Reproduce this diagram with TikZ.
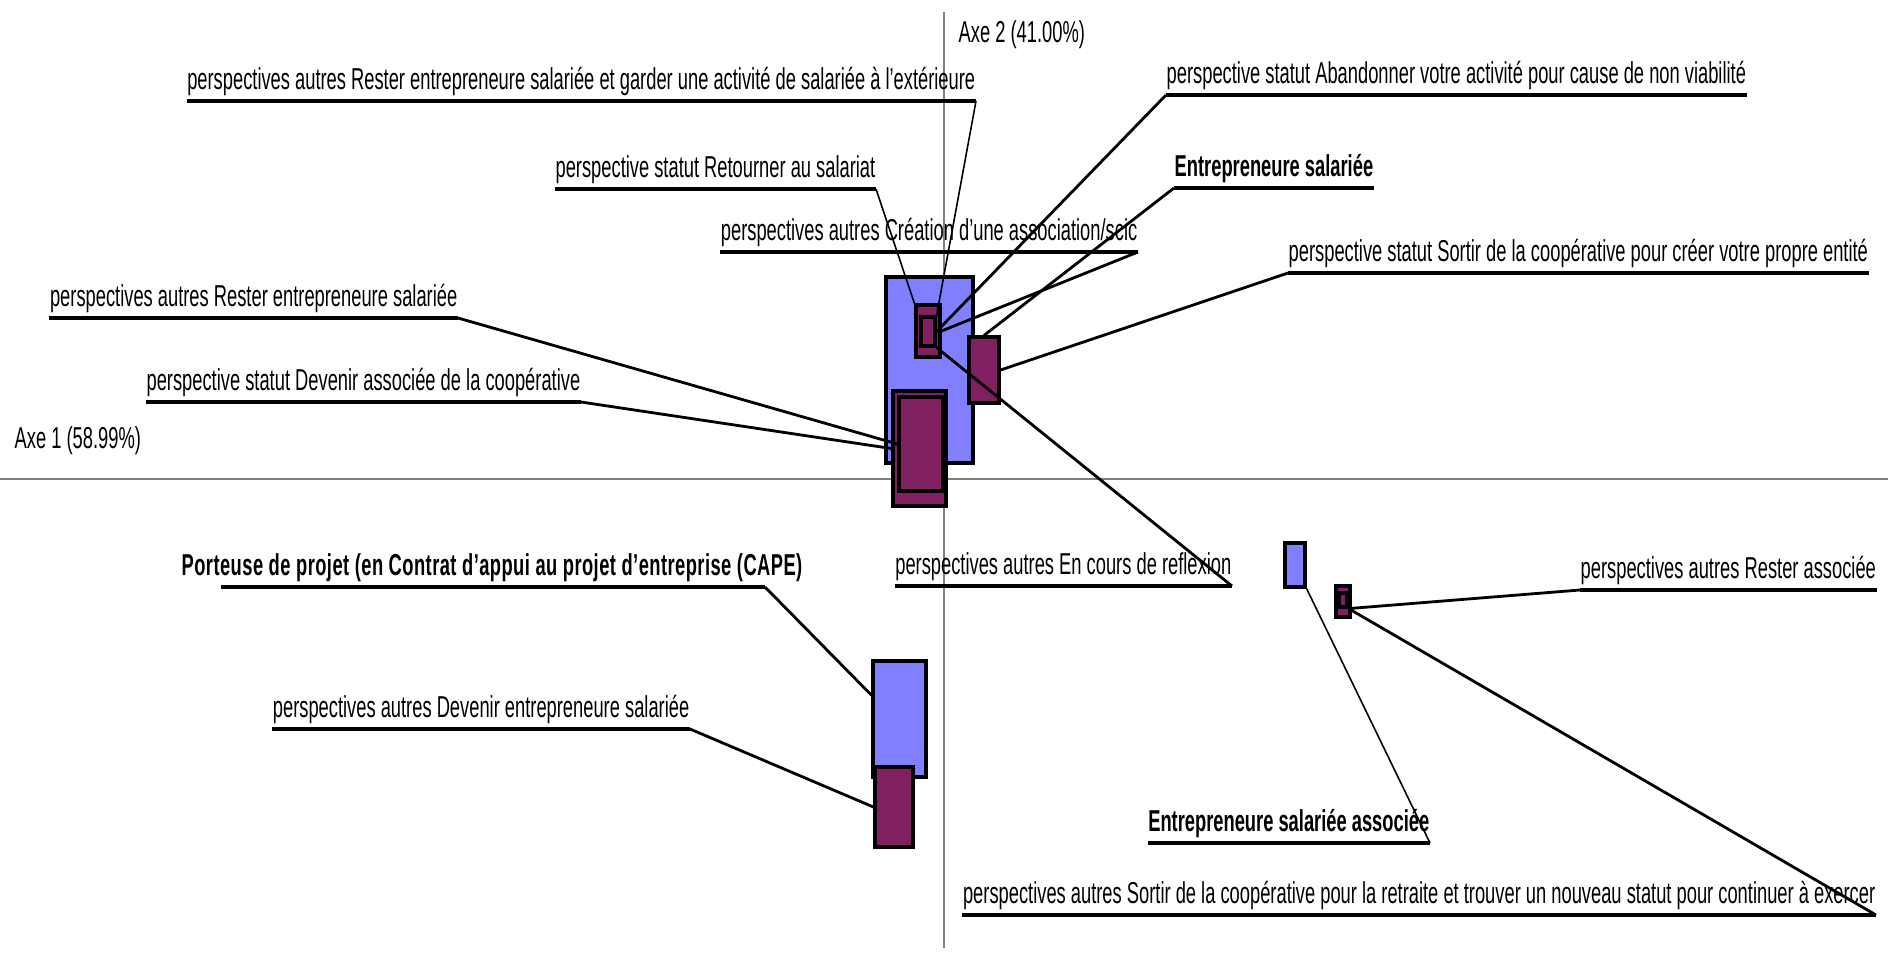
\documentclass[tikz,border=0pt]{standalone}
\usepackage{fontspec}
\setmainfont{Liberation Sans}[FakeStretch=0.606]
\usetikzlibrary{calc}
\definecolor{axblue}{RGB}{128,128,255}
\definecolor{axplum}{RGB}{128,32,96}
\tikzset{
  lbl/.style={inner xsep=0pt, inner ysep=1.2pt, font=\fontsize{8.6}{9}\selectfont},
  blbl/.style={lbl, font=\fontsize{8.6}{9}\selectfont\bfseries},
  ul/.style={line width=0.9pt},
  lead/.style={line width=0.8pt},
  thinlead/.style={line width=0.45pt},
  box/.style 2 args={draw, line width=0.9pt, inner sep=0pt, minimum width=#1*0.1mm, minimum height=#2*0.1mm}
}
\begin{document}
\begin{tikzpicture}[x=0.1mm, y=-0.1mm]
            \useasboundingbox (0,0) rectangle (1888,954);
            % axes
            \draw[gray, line width=0.6pt] (0,479) -- (1888,479);
            \draw[gray, line width=0.4pt] (944,12) -- (944,948);
            \node[lbl, anchor=west] (ax2) at (958,35) {Axe 2 (41.00\%)};
            \node[lbl, anchor=west] (ax1) at (14,441) {Axe 1 (58.99\%)};

            % boxes
            \node[box={87}{186}, fill=axblue] (blueA) at (929.5,370) {};
            \node[box={24}{52}, fill=axplum] (magSo) at (928,331) {};
            \node[box={14}{29}, fill=axplum] (magSi) at (928,331.5) {};
            \node[box={30}{66}, fill=axplum] (magR) at (984,370) {};
            \node[box={53}{115}, fill=axplum] (magBo) at (919.5,448.5) {};
            \node[box={44}{94}, fill=axplum] (magBi) at (921,444) {};
            \node[box={53}{116}, fill=axblue] (blueL) at (899.5,719) {};
            \node[box={38}{80}, fill=axplum] (magL) at (894,807) {};
            \node[box={20}{44}, fill=axblue] (blueR) at (1295,565) {};
            \node[box={14}{31}, fill=axplum] (magRo) at (1343,601.5) {};
            \node[box={8}{14}, fill=axplum] (magRi) at (1343,600) {};

            % labels
            \node[lbl, anchor=south east] (pExt) at (976,101) {perspectives autres Rester entrepreneure salariée et garder une activité de salariée à l'extérieure};
            \node[lbl, anchor=south east] (pSal) at (876,189) {perspective statut Retourner au salariat};
            \node[lbl, anchor=south east] (pScic) at (1138,252) {perspectives autres Création d'une association/scic};
            \node[lbl, anchor=south east] (pRest) at (458,318) {perspectives autres Rester entrepreneure salariée};
            \node[lbl, anchor=south east] (pAsso) at (581,402) {perspective statut Devenir associée de la coopérative};
            \node[lbl, anchor=south east, font={\fontsize{8.6}{9}\selectfont\bfseries\addfontfeature{LetterSpace=1.5}}] (cape) at (803,587) {Porteuse de projet (en Contrat d’appui au projet d’entreprise (CAPE)};
            \node[lbl, anchor=south east] (pDev) at (690,729) {perspectives autres Devenir entrepreneure salariée};
            \node[lbl, anchor=south east] (pRefl) at (1232,586) {perspectives autres En cours de reflexion};
            \node[blbl, anchor=south east] (esa) at (1430,843) {Entrepreneure salariée associée};
            \node[lbl, anchor=south east] (pRetr) at (1876,915) {perspectives autres Sortir de la coopérative pour la retraite et trouver un nouveau statut pour continuer à exercer};
            \node[lbl, anchor=south west] (pAband) at (1166,95) {perspective statut Abandonner votre activité pour cause de non viabilité};
            \node[blbl, anchor=south west] (es) at (1174,188) {Entrepreneure salariée};
            \node[lbl, anchor=south west] (pEnt) at (1288,273) {perspective statut Sortir de la coopérative pour créer votre propre entité};
            \node[lbl, anchor=south west] (pRA) at (1580,590) {perspectives autres Rester associée};

            \foreach \n in {pExt, pSal, pScic, pRest, pAsso, pDev, pRefl, esa, pRetr, pAband, es, pEnt, pRA}
                \draw[ul] (\n.south west) -- (\n.south east);
            \draw[ul, shorten <=4mm, shorten >=3.8mm] (cape.south west) -- (cape.south east);

            % leaders
            \draw[thinlead] (pExt.south east) -- (magSi.north east);
            \draw[thinlead] (pSal.south east) -- (magSo.north west);
            \draw[lead] (pScic.south east) -- (magSo.east);
            \draw[lead] (pAband.south west) -- (magSi.east);
            \draw[lead] (es.south west) -- (magR.north);
            \draw[lead] (pEnt.south west) -- (magR.east);
            \draw[lead] (pRest.south east) -- (magBi.west);
            \draw[lead] (pAsso.south east) -- (magBo.west);
            \draw[lead] ([xshift=-3.8mm]cape.south east) -- ($(blueL.north west)!0.3!(blueL.south west)$);
            \draw[lead] (pDev.south east) -- (magL.west);
            \draw[lead] (magSi.south east) -- (pRefl.south east);
            \draw[lead] (pRA.south west) -- (magRi.south east);
            \draw[thinlead] (blueR.south east) -- (esa.south east);
            \draw[lead] (magRi.south east) -- (pRetr.south east);
\end{tikzpicture}
\end{document}
